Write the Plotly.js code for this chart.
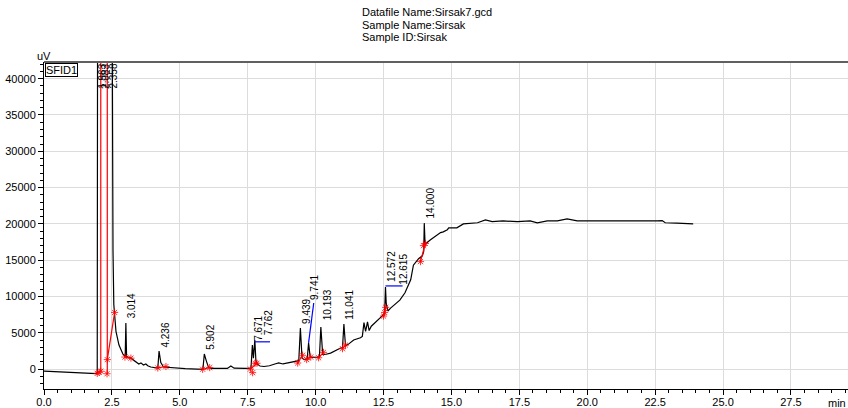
<!DOCTYPE html>
<html><head><meta charset="utf-8">
<script src="https://cdn.plot.ly/plotly-3.0.1.min.js"></script>
<style>html,body{margin:0;padding:0;background:#fff;}#chart{width:848px;height:408px;}</style>
</head><body><div id="chart"></div>
<script>
// Chromatogram (time in min, signal in uV)
const traceTime = [0, 1.0, 1.93, 1.96, 1.975, 2.50, 2.52, 2.54, 2.57, 2.65, 2.76, 2.90, 2.99, 3.014, 3.04, 3.10, 3.20, 3.38, 3.49, 3.57, 3.66, 3.75, 3.82, 3.93, 4.19, 4.236, 4.30, 4.40, 4.60, 5.20, 5.85, 5.902, 5.97, 6.05, 6.15, 6.50, 6.75, 6.88, 7.00, 7.40, 7.62, 7.671, 7.71, 7.762, 7.80, 7.85, 7.95, 8.10, 8.30, 8.50, 8.64, 8.80, 9.10, 9.38, 9.439, 9.50, 9.58, 9.69, 9.741, 9.80, 10.06, 10.14, 10.193, 10.26, 10.35, 10.55, 10.92, 10.99, 11.041, 11.10, 11.20, 11.40, 11.65, 11.72, 11.78, 11.84, 11.91, 11.97, 12.05, 12.27, 12.50, 12.54, 12.572, 12.60, 12.615, 12.66, 12.76, 13.10, 13.29, 13.50, 13.60, 13.79, 13.93, 13.98, 14.00, 14.03, 14.23, 14.60, 14.70, 14.85, 14.90, 15.20, 15.44, 15.96, 16.25, 16.50, 16.90, 17.43, 17.90, 18.16, 18.53, 18.90, 19.26, 19.63, 20.10, 20.60, 21.10, 21.58, 22.06, 22.57, 22.76, 22.87, 23.30, 23.90];
const traceSignal = [-280, -420, -640, -660, 60000, 60000, 20000, 16400, 8900, 5200, 3300, 2100, 1700, 6350, 1750, 1600, 1500, 970, 700, 850, 560, 700, 450, 280, 140, 2480, 900, 280, 200, 60, -30, 2070, 1200, 300, 80, 50, 80, 420, 120, 100, 120, 3300, 1500, 4000, 1200, 700, 420, 350, 450, 700, 850, 700, 950, 1150, 5650, 1500, 1300, 1400, 3600, 1600, 1650, 1700, 5800, 2000, 2000, 2200, 2900, 2950, 6200, 3200, 3400, 4000, 4300, 4500, 6400, 5200, 6500, 5300, 5900, 6750, 7500, 7600, 11300, 9000, 8700, 8000, 8400, 9500, 10500, 12300, 14300, 15200, 15600, 16200, 20100, 17200, 17800, 18800, 18900, 19200, 19450, 19450, 20000, 20150, 20550, 20300, 20400, 20300, 20400, 20150, 20400, 20400, 20700, 20400, 20400, 20400, 20300, 20300, 20300, 20400, 20450, 20150, 20100, 20000];

// Peak start/end marks
const markTime = [1.96, 2.03, 2.09, 2.32, 2.33, 2.60, 2.98, 3.20, 4.19, 4.49, 5.84, 6.10, 7.60, 7.68, 7.77, 7.84, 9.34, 9.52, 9.67, 9.82, 10.11, 10.29, 10.99, 11.10, 12.50, 12.54, 12.58, 13.86, 13.97, 14.04];
const markSignal = [-600, -450, -300, -650, 1300, 7800, 1650, 1500, 150, 350, -30, 200, 0, -500, 800, 800, 830, 1900, 1300, 1650, 1550, 2300, 2800, 3300, 7300, 7800, 8500, 14800, 17000, 17300];

// Integration baselines / drop lines
const baseTime = [2.09, 2.09, null, 2.33, 2.33, null, 2.33, 2.60, null, 2.98, 3.20, null, 4.19, 4.49, null, 5.84, 6.10, null, 7.60, 7.84, null, 9.34, 9.52, null, 9.67, 9.82, null, 10.11, 10.29, null, 10.99, 11.10, null, 12.50, 12.58, null, 13.86, 14.04];
const baseSignal = [-300, 60000, null, -650, 60000, null, 1300, 7800, null, 1650, 1500, null, 150, 350, null, -30, 200, null, 0, 800, null, 830, 1900, null, 1300, 1650, null, 1550, 2300, null, 2800, 3300, null, 7300, 8500, null, 14800, 17300];

// Label leader lines
const leaderTime = [7.762, 8.32, null, 9.741, 9.93, null, 12.572, 13.20];
const leaderSignal = [3750, 3750, null, 3600, 9100, null, 11450, 11450];

// Peak labels
const peakLabels = ['3.014', '4.236', '5.902', '7.671', '7.762', '9.439', '9.741', '10.193', '11.041', '12.572', '12.615', '14.000'];
const labelTime = [3.014, 4.236, 5.902, 7.671, 8.05, 9.439, 9.741, 10.193, 11.041, 12.572, 13.00, 14.000];
const labelSignal = [6760, 2620, 2350, 3590, 4400, 5930, 9250, 6500, 6490, 11730, 11300, 20420];
const topLabels = ['1.963', '2.083', '2.358'];
const topLabelTime = [1.963, 2.083, 2.358];

const headerLines = ['Datafile Name:Sirsak7.gcd', 'Sample Name:Sirsak', 'Sample ID:Sirsak'];

const FONT = 'Liberation Sans, Arial, sans-serif';

const traces = [
  {x: traceTime, y: traceSignal, type: 'scatter', mode: 'lines', line: {color: '#000', width: 1.2}, hoverinfo: 'skip'},
  {x: baseTime, y: baseSignal, type: 'scatter', mode: 'lines', line: {color: '#ff0000', width: 1.2}, connectgaps: false, hoverinfo: 'skip'},
  {x: leaderTime, y: leaderSignal, type: 'scatter', mode: 'lines', line: {color: '#0000ff', width: 1.2}, connectgaps: false, hoverinfo: 'skip'},
  {x: markTime, y: markSignal, type: 'scatter', mode: 'markers', marker: {symbol: 'asterisk-open', size: 6, color: '#ff0000', line: {color: '#ff0000', width: 0.8}}, hoverinfo: 'skip'}
];

const annotations = [];
peakLabels.forEach((t, i) => annotations.push({
  x: labelTime[i], y: labelSignal[i], xref: 'x', yref: 'y', text: t, showarrow: false,
  textangle: -90, xanchor: 'center', yanchor: 'bottom', xshift: 6,
  font: {family: FONT, size: 10, color: '#000'}
}));
topLabels.forEach((t, i) => annotations.push({
  x: topLabelTime[i], y: 1, xref: 'x', yref: 'paper', text: t, showarrow: false,
  textangle: -90, xanchor: 'center', yanchor: 'top', xshift: 5,
  font: {family: FONT, size: 10, color: '#000'}
}));
const headerY = [1.1514, 1.1131, 1.0765];
headerLines.forEach((t, i) => annotations.push({
  x: 0.393, y: headerY[i], xref: 'paper', yref: 'paper', text: t, showarrow: false,
  xanchor: 'left', yanchor: 'middle', font: {family: FONT, size: 11, color: '#000'}
}));
annotations.push({x: 0, y: 1.018, xref: 'paper', yref: 'paper', text: 'uV', showarrow: false,
  xanchor: 'center', yanchor: 'middle', font: {family: FONT, size: 11, color: '#000'}});
annotations.push({x: 0.0012, y: 0.997, xref: 'paper', yref: 'paper', text: 'SFID1', showarrow: false,
  xanchor: 'left', yanchor: 'top', bordercolor: '#000', borderwidth: 1, borderpad: 0,
  font: {family: FONT, size: 11, color: '#000'}});
annotations.push({x: 1, y: -0.043, xref: 'paper', yref: 'paper', text: 'min', showarrow: false,
  xanchor: 'right', yanchor: 'middle', font: {family: FONT, size: 11, color: '#000'}});

const layout = {
  width: 848, height: 408,
  margin: {l: 44, r: 0, t: 62, b: 19, pad: 0},
  paper_bgcolor: '#fff', plot_bgcolor: '#fff',
  showlegend: false,
  font: {family: FONT, size: 11, color: '#000'},
  xaxis: {
    range: [0, 29.6], dtick: 2.5, tick0: 0, tickformat: '.1f',
    ticks: 'outside', ticklen: 5, tickcolor: '#000', tickwidth: 1,
    ticklabelstandoff: -2,
    showline: true, linecolor: '#000', linewidth: 1,
    showgrid: true, gridcolor: '#dcdcdc', gridwidth: 1, zeroline: false,
    minor: {dtick: 0.5, ticks: 'outside', ticklen: 3, tickcolor: '#000', showgrid: false},
    tickfont: {family: FONT, size: 11, color: '#000'}, fixedrange: true
  },
  yaxis: {
    range: [-2750, 42300], dtick: 5000, tick0: 0, tickformat: 'd',
    ticks: 'outside', ticklen: 5, tickcolor: '#000', tickwidth: 1,
    showline: true, linecolor: '#000', linewidth: 1,
    showgrid: true, gridcolor: '#dcdcdc', gridwidth: 1, zeroline: false,
    minor: {dtick: 1000, ticks: 'outside', ticklen: 3, tickcolor: '#000', showgrid: false},
    tickfont: {family: FONT, size: 11, color: '#000'}, fixedrange: true
  },
  shapes: [
    {type: 'line', xref: 'paper', yref: 'paper', x0: 0, x1: 1, y0: 1, y1: 1, line: {color: '#606060', width: 2}}
  ],
  annotations: annotations
};

Plotly.newPlot('chart', traces, layout, {displayModeBar: false, staticPlot: true});
</script></body></html>
